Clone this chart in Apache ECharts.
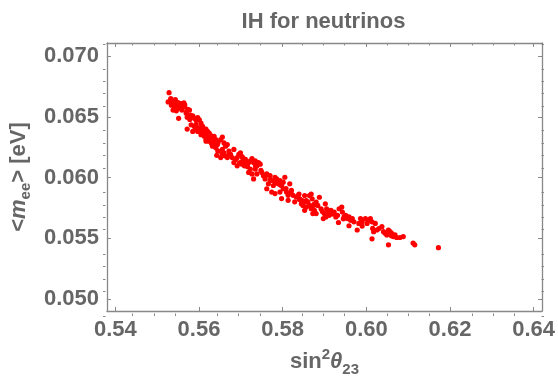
<!DOCTYPE html>
<html>
<head>
<meta charset="utf-8">
<script src="https://cdn.jsdelivr.net/npm/echarts@6/dist/echarts.min.js"></script>
<style>
html,body{margin:0;padding:0;background:#fff;}
#c{width:558px;height:382px;}
</style>
</head>
<body>
<div id="c"></div>
<script>
// sin^2(theta23) values
var sinSq23 = [
0.55285,0.55262,0.55325,0.55356,0.55403,0.55458,0.55513,0.55576,0.55616,0.55419,
0.55380,0.55458,0.55498,0.55560,0.55592,0.55655,0.55733,0.55773,0.55513,0.55694,
0.55718,0.55796,0.55851,0.55891,0.55930,0.55969,0.56009,0.56048,0.55718,0.55812,
0.55891,0.55930,0.55851,0.55969,0.56009,0.56087,0.56126,0.56166,0.56205,0.56244,
0.56048,0.56126,0.56205,0.56284,0.56323,0.56362,0.56402,0.56166,0.56244,0.56299,
0.56362,0.56402,0.56425,0.56323,0.56441,0.56519,0.56559,0.56598,0.56637,0.56677,
0.56559,0.56598,0.56716,0.56677,0.56519,0.56755,0.56795,0.56834,0.56834,0.56913,
0.56952,0.56991,0.57030,0.56913,0.56991,0.57054,0.57109,0.57085,0.57148,0.57188,
0.57227,0.57266,0.57305,0.57384,0.57423,0.57463,0.57345,0.57227,0.57188,0.57266,
0.57305,0.57384,0.57502,0.57541,0.57581,0.57620,0.57699,0.57738,0.57659,0.57817,
0.57856,0.57895,0.57935,0.57974,0.58013,0.58052,0.57777,0.57620,0.57738,0.57817,
0.57935,0.58013,0.58092,0.58131,0.58170,0.58210,0.58249,0.57974,0.58131,0.58328,
0.58288,
0.58367,0.58407,0.58446,0.58485,0.58525,0.58564,0.58603,0.58642,0.58682,0.58705,
0.58737,0.58760,0.58682,0.58564,0.58525,0.58800,0.58839,0.58878,0.58918,0.58721,
0.58800,0.59020,0.59051,0.58996,0.59035,0.58972,0.59075,0.59114,0.59153,0.59193,
0.59232,0.59271,0.59311,0.59334,0.59350,0.59413,0.59428,0.59468,0.59507,0.59546,
0.59586,0.59625,0.59586,0.59664,0.59704,0.59782,0.59821,0.59861,0.59900,0.59979,
0.60018,0.60057,0.60097,0.60136,0.60152,0.60175,0.60136,0.60214,0.60254,0.60372,
0.60411,0.60450,0.60490,0.60529,0.60568,0.60607,0.60647,0.60686,0.60529,0.60725,
0.60804,0.60883,0.61118,0.61158,0.61724,
0.55435,0.55537,0.55482,0.55639,0.55340,0.56087,0.56189,0.56268,0.56346,0.56032,
0.56457,0.57132,0.57345,0.57030,0.58470,0.58642,0.58391,
0.5532,0.5541,0.5550,0.5545,0.5566,0.5570,0.5585,0.5578,0.5593,0.5600,
0.5607,0.5613,0.5620,0.5628,0.5617,0.5632,0.5640,0.5645,0.5655,0.5662,
0.5672,0.5688,0.5697,0.5705,0.5716,0.5735,0.5748,0.5760,0.5770,0.5783,
0.5795,0.5808,0.5820,0.5840,0.5855,0.5875,0.5895,0.5920,0.5945,0.5965,
0.5990,0.6030,0.6060
];
// <m_ee> values [eV]
var mee = [
0.06700,0.06624,0.06651,0.06632,0.06611,0.06624,0.06616,0.06611,0.06597,0.06584,
0.06557,0.06551,0.06570,0.06578,0.06557,0.06584,0.06562,0.06557,0.06489,0.06530,
0.06497,0.06516,0.06503,0.06489,0.06476,0.06495,0.06476,0.06449,0.06400,0.06435,
0.06422,0.06400,0.06381,0.06381,0.06408,0.06422,0.06395,0.06400,0.06381,0.06368,
0.06354,0.06341,0.06341,0.06346,0.06327,0.06341,0.06314,0.06314,0.06300,0.06281,
0.06273,0.06246,0.06184,0.06259,0.06273,0.06314,0.06335,0.06286,0.06259,0.06273,
0.06232,0.06205,0.06219,0.06165,0.06165,0.06192,0.06165,0.06232,0.06124,0.06165,
0.06192,0.06205,0.06173,0.06097,0.06124,0.06138,0.06151,0.06097,0.06111,0.06124,
0.06138,0.06157,0.06124,0.06097,0.06124,0.06111,0.06070,0.06070,0.06043,0.06030,
0.05989,0.06030,0.06043,0.06016,0.05989,0.06030,0.06016,0.05976,0.05949,0.06003,
0.05989,0.05949,0.05976,0.05935,0.05962,0.06003,0.05935,0.05908,0.05881,0.05868,
0.05881,0.05908,0.05881,0.05854,0.05949,0.05895,0.05854,0.05827,0.05813,0.05840,
0.05800,
0.05852,0.05825,0.05784,0.05771,0.05852,0.05811,0.05798,0.05852,0.05865,0.05825,
0.05771,0.05730,0.05743,0.05757,0.05730,0.05798,0.05771,0.05838,0.05743,0.05703,
0.05703,0.05784,0.05743,0.05703,0.05676,0.05662,0.05716,0.05689,0.05730,0.05703,
0.05716,0.05676,0.05689,0.05630,0.05743,0.05757,0.05716,0.05676,0.05689,0.05662,
0.05676,0.05649,0.05603,0.05662,0.05635,0.05568,0.05622,0.05662,0.05635,0.05662,
0.05622,0.05649,0.05662,0.05635,0.05581,0.05554,0.05495,0.05622,0.05568,0.05595,
0.05554,0.05541,0.05527,0.05568,0.05554,0.05541,0.05514,0.05527,0.05446,0.05506,
0.05506,0.05514,0.05460,0.05446,0.05422,
0.06643,0.06597,0.06578,0.06616,0.06597,0.06368,0.06362,0.06319,0.06300,0.06381,
0.06292,0.06130,0.06138,0.06111,0.05811,0.05771,0.05865,
0.0664,0.0660,0.0659,0.0656,0.0660,0.0654,0.0651,0.0648,0.0644,0.0641,
0.0638,0.0636,0.0634,0.0632,0.0630,0.0628,0.0626,0.0622,0.0620,0.0618,
0.0619,0.0615,0.0612,0.0616,0.0609,0.0610,0.0606,0.0602,0.0598,0.0596,
0.0594,0.0591,0.0588,0.0582,0.0580,0.0578,0.0572,0.0570,0.0566,0.0565,
0.0560,0.0558,0.0552
];
var xTickLabels = [0.54, 0.56, 0.58, 0.60, 0.62, 0.64];
var yTickLabels = [0.050, 0.055, 0.060, 0.065, 0.070];
var xRange = [0.538, 0.642];
var yRange = [0.049, 0.0711];

var xMinor = [], yMinor = [];
for (var i = 0; i <= 20; i++) { var v = +(0.54 + i * 0.005).toFixed(3); if (i % 4 !== 0) xMinor.push(v); }
for (var j = 0; j <= 22; j++) { var w = +(0.049 + j * 0.001).toFixed(3); if (j % 5 !== 1) yMinor.push(w); }

var points = sinSq23.map(function (x, k) { return [x, mee[k]]; });

var GRAY = '#888';
var TXT = '#666';
var FONT = '"Liberation Sans", Arial, sans-serif';
var gridRect = { left: 103, right: 14, top: 43, bottom: 66 };

function xAx(gi, pos, ticks, len, labels) {
  return {
    type: 'value', gridIndex: gi, position: pos, min: xRange[0], max: xRange[1],
    axisLine: { show: gi === 0, lineStyle: { color: GRAY, width: 1.3 } },
    axisTick: { show: true, inside: true, length: len, customValues: ticks, lineStyle: { color: GRAY, width: 1 } },
    axisLabel: labels ? { show: true, customValues: ticks, margin: 8, color: TXT, fontSize: 22, fontWeight: 'bold', fontFamily: FONT,
      formatter: function (v) { return v.toFixed(2); } } : { show: false },
    splitLine: { show: false }
  };
}
function yAx(gi, pos, ticks, len, labels) {
  return {
    type: 'value', gridIndex: gi, position: pos, min: yRange[0], max: yRange[1],
    axisLine: { show: gi === 0, lineStyle: { color: GRAY, width: 1.3 } },
    axisTick: { show: true, inside: true, length: len, customValues: ticks, lineStyle: { color: GRAY, width: 1 } },
    axisLabel: labels ? { show: true, customValues: ticks, margin: 8, color: TXT, fontSize: 22, fontWeight: 'bold', fontFamily: FONT,
      formatter: function (v) { return v.toFixed(3); } } : { show: false },
    splitLine: { show: false }
  };
}

var xa0 = xAx(0, 'bottom', xTickLabels, 4, true);
xa0.name = '{a|sin}{sup|2}{th|θ}{sub|23}';
xa0.nameLocation = 'middle';
xa0.nameGap = 36;
xa0.nameTextStyle = {
  color: TXT, fontFamily: FONT, fontWeight: 'bold',
  rich: {
    a: { fontSize: 22, fontWeight: 'bold', color: TXT, fontFamily: FONT, lineHeight: 30 },
    sup: { fontSize: 15, fontWeight: 'bold', color: TXT, fontFamily: FONT, lineHeight: 15, verticalAlign: 'top' },
    th: { fontSize: 22, fontWeight: 'bold', fontStyle: 'italic', color: TXT, fontFamily: FONT, lineHeight: 30 },
    sub: { fontSize: 15, fontWeight: 'bold', color: TXT, fontFamily: FONT, lineHeight: 15, verticalAlign: 'bottom' }
  }
};
var ya0 = yAx(0, 'left', yTickLabels, 4, true);
ya0.name = '{a|<}{m|m}{sub|ee}{a|> [eV]}';
ya0.nameLocation = 'middle';
ya0.nameGap = 67;
ya0.nameRotate = 90;
ya0.nameTextStyle = {
  color: TXT, fontFamily: FONT, fontWeight: 'bold',
  rich: {
    a: { fontSize: 22, fontWeight: 'bold', color: TXT, fontFamily: FONT, lineHeight: 28 },
    m: { fontSize: 22, fontWeight: 'bold', fontStyle: 'italic', color: TXT, fontFamily: FONT, lineHeight: 28 },
    sub: { fontSize: 15, fontWeight: 'bold', color: TXT, fontFamily: FONT, lineHeight: 15, verticalAlign: 'bottom' }
  }
};

var option = {
  animation: false,
  backgroundColor: '#fff',
  grid: [
    Object.assign({ containLabel: false }, gridRect),
    Object.assign({ containLabel: false }, gridRect)
  ],
  xAxis: [
    xa0,
    xAx(0, 'top', xTickLabels, 4, false),
    xAx(1, 'bottom', xMinor, 2.5, false),
    xAx(1, 'top', xMinor, 2.5, false)
  ],
  yAxis: [
    ya0,
    yAx(0, 'right', yTickLabels, 4, false),
    yAx(1, 'left', yMinor, 2.5, false),
    yAx(1, 'right', yMinor, 2.5, false)
  ],
  graphic: [{
    type: 'text', x: 323.5, y: 22,
    style: { text: 'IH for neutrinos', fill: TXT, font: 'bold 22px ' + FONT, textAlign: 'center', textVerticalAlign: 'middle' }
  }],
  series: [{
    type: 'scatter', xAxisIndex: 0, yAxisIndex: 0,
    data: points, symbol: 'circle', symbolSize: 5.2,
    itemStyle: { color: '#ff0000', opacity: 1 },
    silent: true
  }]
};
var chart = echarts.init(document.getElementById('c'), null, { renderer: 'canvas' });
chart.setOption(option);
</script>
</body>
</html>
